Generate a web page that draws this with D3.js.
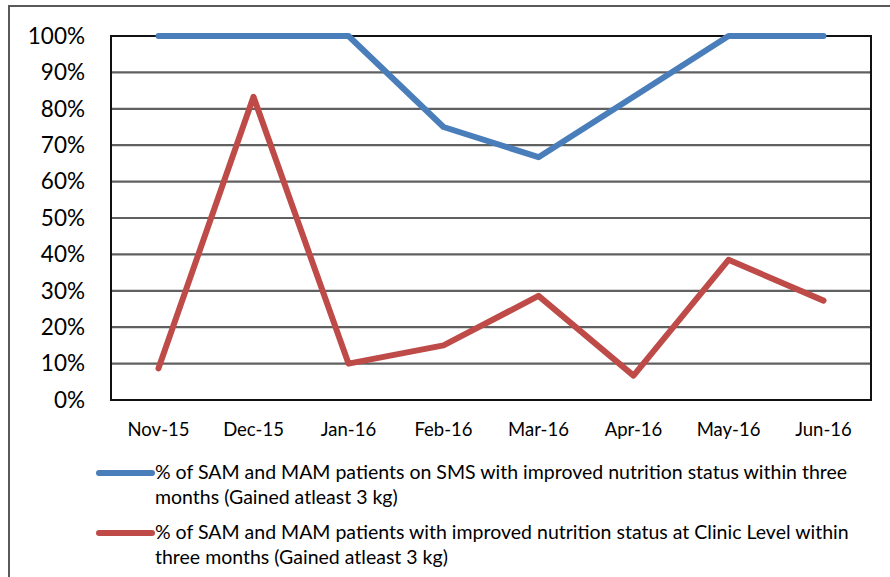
<!DOCTYPE html>
<html>
<head>
<meta charset="utf-8">
<script src="https://cdn.jsdelivr.net/npm/d3@7"></script>
<style>
  html, body { margin: 0; padding: 0; background: #fff; }
  svg { display: block; font-family: Lato, "Open Sans", sans-serif; }
</style>
</head>
<body>
<svg id="chart" width="890" height="577"></svg>
<script>
// Monthly share of SAM/MAM patients with improved nutrition status
const months = ["Nov-15", "Dec-15", "Jan-16", "Feb-16", "Mar-16", "Apr-16", "May-16", "Jun-16"];
const smsValues = [1.00, 1.00, 1.00, 0.75, 0.667, 0.833, 1.00, 1.00];
const clinicValues = [0.087, 0.833, 0.10, 0.15, 0.286, 0.067, 0.385, 0.273];
const yTicks = [0, 0.1, 0.2, 0.3, 0.4, 0.5, 0.6, 0.7, 0.8, 0.9, 1.0];
const seriesNames = [
  ["% of SAM and MAM patients on SMS with improved nutrition status within three", "months (Gained atleast 3 kg)"],
  ["% of SAM and MAM patients with improved nutrition status at Clinic Level within", "three months (Gained atleast 3 kg)"]
];
const seriesColors = ["#4A7EBB", "#BE4B48"];

const svg = d3.select("#chart");

// outer frame of the chart object
svg.append("path")
  .attr("d", "M9,578 L9,6 L892,6")
  .attr("fill", "none")
  .attr("stroke", "#595959")
  .attr("stroke-width", 2);

const plot = { left: 111, right: 871, top: 36, bottom: 400 };

const x = d3.scaleBand().domain(months).range([plot.left, plot.right]);
const y = d3.scaleLinear().domain([0, 1]).range([plot.bottom, plot.top]);

// horizontal gridlines
svg.append("g")
  .selectAll("line")
  .data(yTicks.filter(t => t > 0 && t < 1))
  .join("line")
  .attr("x1", plot.left).attr("x2", plot.right)
  .attr("y1", d => y(d)).attr("y2", d => y(d))
  .attr("stroke", "#606060")
  .attr("stroke-width", 2.2);

// plot area border
svg.append("rect")
  .attr("x", plot.left).attr("y", plot.top)
  .attr("width", plot.right - plot.left)
  .attr("height", plot.bottom - plot.top)
  .attr("fill", "none")
  .attr("stroke", "#111")
  .attr("stroke-width", 2);

// y axis labels
const yAxis = d3.axisLeft(y)
  .tickValues(yTicks)
  .tickFormat(d3.format(".0%"))
  .tickSize(0)
  .tickPadding(26);
const yg = svg.append("g").attr("transform", `translate(${plot.left},0)`).call(yAxis);
yg.select(".domain").remove();
yg.selectAll("text")
  .attr("font-family", "Lato, sans-serif")
  .attr("font-size", 22.5)
  .attr("fill", "#000");

// x axis labels
const xAxis = d3.axisBottom(x).tickSize(0).tickPadding(23);
const xg = svg.append("g").attr("transform", `translate(0,${plot.bottom})`).call(xAxis);
xg.select(".domain").remove();
xg.selectAll("text")
  .attr("font-family", "Lato, sans-serif")
  .attr("font-size", 18.5)
  .attr("fill", "#000");

// series lines
const line = d3.line()
  .x((d, i) => x(months[i]) + x.bandwidth() / 2)
  .y(d => y(d));

[smsValues, clinicValues].forEach((vals, i) => {
  svg.append("path")
    .datum(vals)
    .attr("d", line)
    .attr("fill", "none")
    .attr("stroke", seriesColors[i])
    .attr("stroke-width", 6)
    .attr("stroke-linejoin", "round")
    .attr("stroke-linecap", "round");
});

// legend
const legend = svg.append("g");
const legendRows = [473, 533];
seriesNames.forEach((lines, i) => {
  const cy = legendRows[i];
  legend.append("line")
    .attr("x1", 99).attr("x2", 152)
    .attr("y1", cy).attr("y2", cy)
    .attr("stroke", seriesColors[i])
    .attr("stroke-width", 6)
    .attr("stroke-linecap", "round");
  const t = legend.append("text")
    .attr("x", 155)
    .attr("y", cy + 6)
    .attr("font-family", "Lato, sans-serif")
    .attr("font-size", 19.5)
    .attr("fill", "#000");
  lines.forEach((s, j) => {
    t.append("tspan").attr("x", 155).attr("dy", j === 0 ? 0 : 24.5).text(s);
  });
});
</script>
</body>
</html>
